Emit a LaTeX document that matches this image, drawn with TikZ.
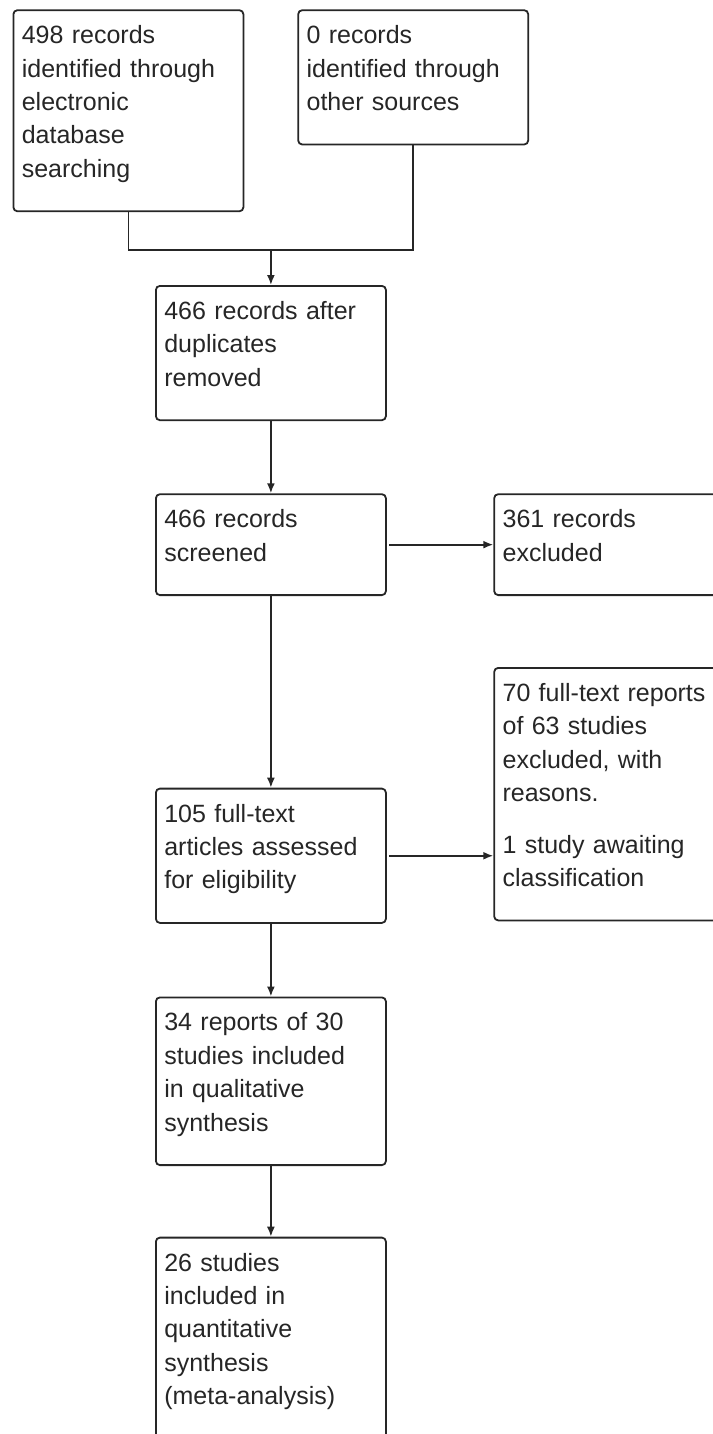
\documentclass[tikz,border=0pt]{standalone}
\usepackage{fontspec}
\setmainfont{Liberation Sans}
\usetikzlibrary{arrows.meta}
\definecolor{ink}{HTML}{262626}
\newcommand{\bxtext}[1]{\rule{0pt}{33.5pt}#1\rule[-34pt]{0pt}{0pt}}
\begin{document}
\begin{tikzpicture}[x=1pt,y=1pt,
  box/.style={draw=ink, line width=1.8pt, rounded corners=4pt, anchor=north west,
    inner xsep=8.4pt, inner ysep=0pt, text width=213.2pt, align=left, text=ink,
    font=\fontsize{25}{33.4}\selectfont},
  conn/.style={draw=ink, line width=1.8pt},
  arr/.style={conn, -{Latex[length=10pt,width=8pt]}}]
\useasboundingbox (0,0) rectangle (712,-1434);
\node[box] (A) at (12.5,-9.3) {\bxtext{498 records\\identified through\\electronic\\database\\searching}};
\node[box] (B) at (297.3,-9.3) {\bxtext{0 records\\identified through\\other sources}};
\node[box] (C) at (155,-285) {\bxtext{466 records after\\duplicates\\removed}};
\node[box] (D) at (155,-493.3) {\bxtext{466 records\\screened}};
\node[box] (E) at (493.3,-493.3) {\bxtext{361 records\\excluded}};
\node[box] (F) at (155,-787.7) {\bxtext{105 full-text\\articles assessed\\for eligibility}};
\node[box] (G) at (493.3,-667) {\bxtext{70 full-text reports\\of 63 studies\\excluded, with\\reasons.\\[18pt]1 study awaiting\\classification}};
\node[box] (H) at (155,-996.5) {\bxtext{34 reports of 30\\studies included\\in qualitative\\synthesis}};
\node[box] (I) at (155,-1236.7) {\bxtext{26 studies\\included in\\quantitative\\synthesis\\(meta-analysis)}};
\path (C.north) ++(0,35.3) coordinate (j);
\draw[conn] (A.south) |- (j) -| (B.south);
\draw[arr] (j) -- (C.north);
\draw[arr] (C.south) -- (D.north);
\draw[arr, shorten <=2.5pt] (D.east) -- (E.west);
\draw[arr] (D.south) -- (F.north);
\draw[arr, shorten <=2.5pt] (F.east) -- (F.east -| G.west);
\draw[arr] (F.south) -- (H.north);
\draw[arr] (H.south) -- (I.north);
\end{tikzpicture}
\end{document}
